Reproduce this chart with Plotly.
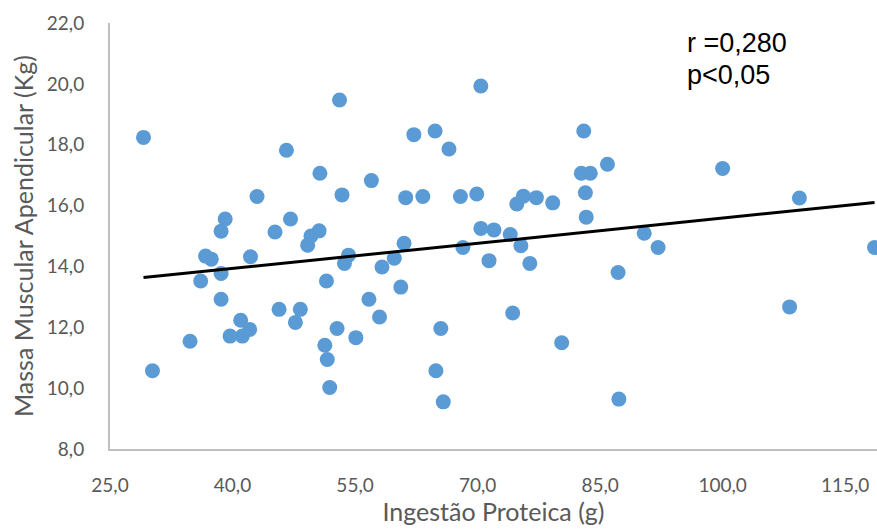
import numpy as np
import plotly.graph_objects as go

# Ingestão Proteica (g)
protein = [29.1, 30.2, 34.8, 36.1, 36.7, 37.4, 38.6, 38.6, 38.6, 39.1, 39.7, 41.0, 41.2, 42.1,
           42.2, 43.0, 45.2, 45.7, 46.6, 47.1, 47.7, 48.3, 49.2, 49.6, 50.6, 50.7, 51.3, 51.5,
           51.6, 51.9, 52.8, 53.1, 53.4, 53.7, 54.2, 55.1, 56.7, 57.0, 58.0, 58.3, 59.8, 60.6,
           61.0, 61.2, 62.2, 63.3, 64.8, 64.9, 65.5, 65.8, 66.5, 67.9, 68.2, 69.9, 70.4, 70.4,
           71.4, 72.0, 74.0, 74.3, 74.8, 75.3, 75.6, 76.4, 77.2, 79.2, 80.3, 82.7, 83.0, 83.2,
           83.3, 83.8, 85.9, 87.2, 87.3, 90.4, 92.1, 100.0, 108.2, 109.4, 118.6]
# Massa Muscular Apendicular (Kg)
muscle = [18.24, 10.57, 11.54, 13.52, 14.34, 14.24, 15.16, 13.77, 12.92, 15.56, 11.71, 12.23, 11.71, 11.93,
          14.32, 16.30, 15.13, 12.59, 17.82, 15.56, 12.16, 12.59, 14.70, 15.00, 15.17, 17.06, 11.41, 13.52,
          10.94, 10.02, 11.96, 19.47, 16.35, 14.10, 14.37, 11.66, 12.92, 16.82, 12.34, 13.98, 14.27, 13.32,
          14.76, 16.26, 18.33, 16.30, 18.45, 10.57, 11.96, 9.55, 17.86, 16.30, 14.62, 16.38, 19.93, 15.25,
          14.19, 15.20, 15.05, 12.47, 16.05, 14.68, 16.31, 14.10, 16.26, 16.09, 11.49, 17.06, 18.45, 16.42,
          15.62, 17.06, 17.36, 13.80, 9.64, 15.09, 14.62, 17.22, 12.67, 16.25, 14.62]

x_ticks = [25, 40, 55, 70, 85, 100, 115]
y_ticks = [8, 10, 12, 14, 16, 18, 20, 22]
stats_lines = ["r =0,280", "p<0,05"]

slope, intercept = np.polyfit(protein, muscle, 1)
fit_x = [min(protein), max(protein)]
fit_y = [slope * v + intercept for v in fit_x]

font_family = "Lato, 'Open Sans', sans-serif"
grey = "#595959"

fig = go.Figure()
fig.add_trace(go.Scatter(x=protein, y=muscle, mode="markers",
                         marker=dict(size=15, color="#5B9BD5", line=dict(width=0)),
                         cliponaxis=False, showlegend=False))
fig.add_trace(go.Scatter(x=fit_x, y=fit_y, mode="lines",
                         line=dict(color="black", width=3), showlegend=False))

for i, txt in enumerate(stats_lines):
    fig.add_annotation(x=0.7497, y=0.953 - i * 0.075, xref="paper", yref="paper",
                       xanchor="left", yanchor="middle", text=txt, showarrow=False,
                       font=dict(family="Arial, 'Liberation Sans', sans-serif", size=27, color="black"))

fig.update_layout(
    width=877, height=532,
    margin=dict(l=110, r=0, t=23, b=83),
    paper_bgcolor="white", plot_bgcolor="white",
    separators=",.",
    font=dict(family=font_family, color=grey),
    xaxis=dict(range=[25, 118.9], tickvals=x_ticks, tickformat=".1f", automargin=False,
               showgrid=False, zeroline=False, showline=True, linecolor="#BFBFBF", linewidth=2,
               ticks="", tickfont=dict(size=19, color=grey), ticklabelstandoff=18,
               title=dict(text="Ingestão Proteica (g)", font=dict(size=25, color=grey), standoff=9)),
    yaxis=dict(range=[8, 22], tickvals=y_ticks, tickformat=".1f", automargin=False,
               showgrid=False, zeroline=False, showline=True, linecolor="#BFBFBF", linewidth=2,
               ticks="", tickfont=dict(size=19, color=grey), ticklabelstandoff=20,
               title=dict(text="Massa Muscular Apendicular (Kg)", font=dict(size=25, color=grey), standoff=6)),
)

fig.write_html("out.html", config={"displayModeBar": False},
               post_script="document.body.style.margin='0';")
